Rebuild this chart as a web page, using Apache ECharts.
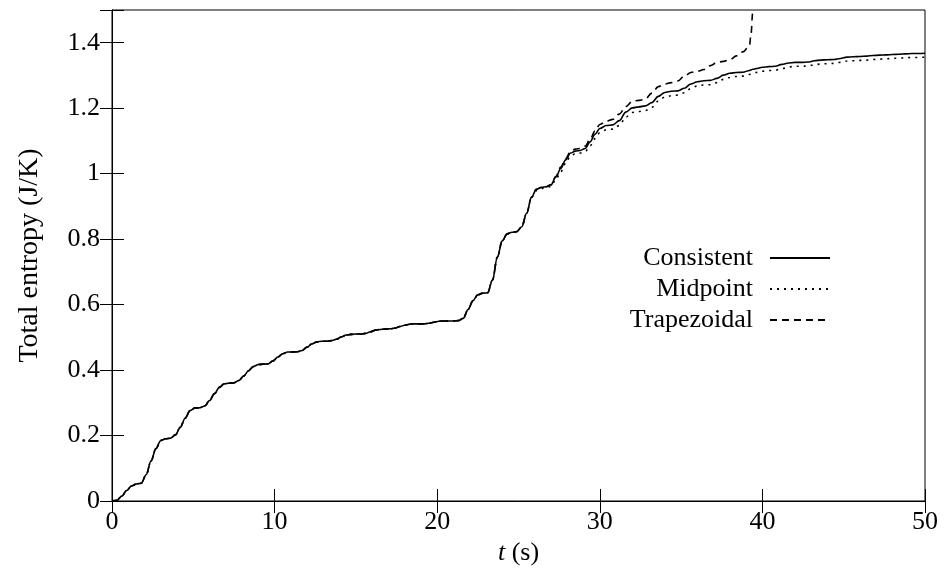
<!DOCTYPE html>
<html>
<head>
<meta charset="utf-8">
<script src="https://cdn.jsdelivr.net/npm/echarts@6/dist/echarts.min.js"></script>
<style>html,body{margin:0;padding:0;background:#fff}#c{width:948px;height:571px}</style>
</head>
<body>
<div id="c"></div>
<script>
const time = [
  0,0.3,0.6,0.9,1.2,1.5,1.8,2.1,2.4,2.7,
  3,3.3,3.6,3.9,4.2,4.5,4.8,5.1,5.4,5.7,
  6,6.3,6.6,6.9,7.2,7.5,7.8,8.1,8.4,8.7,
  9,9.3,9.6,9.9,10.2,10.5,10.8,11.1,11.4,11.7,
  12,12.3,12.6,12.9,13.2,13.5,13.8,14.1,14.4,14.7,
  15,15.3,15.6,15.9,16.2,16.5,16.8,17.1,17.4,17.7,
  18,18.3,18.6,18.9,19.2,19.5,19.8,20.1,20.4,20.7,
  21,21.3,21.6,21.9,22.2,22.5,22.8,23.1,23.4,23.7,
  24,24.3,24.6,24.9,25.2,25.5,25.8,26.1,26.4,26.7,
  27,27.3,27.6,27.9,28.2,28.5,28.8,29.1,29.4,29.7,
  30,
  30.4,30.8,31.2,31.6,32,32.4,32.8,33.2,33.6,34,
  34.4,34.8,35.2,35.6,36,36.4,36.8,37.2,37.6,38,
  38.4,38.8,39.2,
  39.3,39.4,39.45,39.6,
  40,40.4,40.8,41.2,41.6,42,42.4,42.8,43.2,43.6,
  44,44.4,44.8,45.2,45.6,46,46.4,46.8,47.2,47.6,
  48,48.4,48.8,49.2,49.6,50
];
const consistent = [
  0,0.002,0.015,0.032,0.046,0.052,0.054,0.08,0.122,0.16,
  0.185,0.19,0.192,0.202,0.225,0.253,0.276,0.284,0.285,0.29,
  0.307,0.328,0.347,0.358,0.36,0.361,0.368,0.382,0.398,0.411,
  0.417,0.418,0.419,0.428,0.44,0.45,0.455,0.455,0.456,0.46,
  0.47,0.48,0.486,0.488,0.488,0.49,0.494,0.501,0.507,0.509,
  0.51,0.51,0.512,0.517,0.522,0.524,0.525,0.526,0.528,0.533,
  0.537,0.54,0.541,0.541,0.541,0.543,0.546,0.549,0.55,0.55,
  0.55,0.551,0.558,0.585,0.612,0.63,0.635,0.636,0.675,0.745,
  0.795,0.816,0.821,0.823,0.838,0.879,0.928,0.952,0.958,0.96,
  0.966,0.99,1.016,1.042,1.063,1.069,1.071,1.077,1.097,1.12,
  1.138,
  1.147,1.149,1.162,1.188,1.201,1.204,1.207,1.217,1.236,1.248,
  1.252,1.253,1.261,1.274,1.281,1.284,1.285,1.291,1.301,1.307,
  1.309,1.31,1.315,
  1.317,1.319,1.319,1.321,
  1.325,1.327,1.328,1.334,1.338,1.34,1.34,1.341,1.345,1.347,
  1.348,1.349,1.352,1.356,1.357,1.358,1.359,1.361,1.362,1.363,
  1.364,1.365,1.366,1.367,1.367,1.368
];
const midpoint = [
  0,0.002,0.015,0.032,0.046,0.052,0.054,0.08,0.122,0.16,
  0.185,0.19,0.192,0.202,0.225,0.253,0.276,0.284,0.285,0.29,
  0.307,0.328,0.347,0.358,0.36,0.361,0.368,0.382,0.398,0.411,
  0.417,0.418,0.419,0.428,0.44,0.45,0.455,0.455,0.456,0.46,
  0.47,0.48,0.486,0.488,0.488,0.49,0.494,0.501,0.507,0.509,
  0.51,0.51,0.512,0.517,0.522,0.524,0.525,0.526,0.528,0.533,
  0.537,0.54,0.541,0.541,0.541,0.543,0.546,0.549,0.55,0.55,
  0.55,0.551,0.558,0.585,0.612,0.63,0.635,0.636,0.675,0.745,
  0.795,0.816,0.821,0.823,0.838,0.879,0.928,0.948,0.955,0.957,
  0.961,0.982,1.006,1.032,1.054,1.061,1.063,1.067,1.085,1.107,
  1.125,
  1.134,1.136,1.147,1.173,1.187,1.19,1.193,1.203,1.222,1.234,
  1.238,1.24,1.247,1.26,1.268,1.271,1.272,1.278,1.288,1.294,
  1.297,1.298,1.303,
  1.305,1.307,1.307,1.309,
  1.313,1.315,1.316,1.321,1.326,1.328,1.328,1.329,1.333,1.335,
  1.336,1.337,1.34,1.344,1.345,1.346,1.347,1.349,1.35,1.351,
  1.352,1.353,1.354,1.355,1.355,1.356
];
const trapezoidal = [
  0,0.002,0.015,0.032,0.046,0.052,0.054,0.08,0.122,0.16,
  0.185,0.19,0.192,0.202,0.225,0.253,0.276,0.284,0.285,0.29,
  0.307,0.328,0.347,0.358,0.36,0.361,0.368,0.382,0.398,0.411,
  0.417,0.418,0.419,0.428,0.44,0.45,0.455,0.455,0.456,0.46,
  0.47,0.48,0.486,0.488,0.488,0.49,0.494,0.501,0.507,0.509,
  0.51,0.51,0.512,0.517,0.522,0.524,0.525,0.526,0.528,0.533,
  0.537,0.54,0.541,0.541,0.541,0.543,0.546,0.549,0.55,0.55,
  0.55,0.551,0.558,0.585,0.612,0.63,0.635,0.636,0.675,0.745,
  0.795,0.816,0.821,0.823,0.838,0.879,0.928,0.952,0.958,0.96,
  0.966,0.992,1.02,1.046,1.068,1.075,1.077,1.084,1.105,1.13,
  1.15,
  1.16,1.166,1.182,1.205,1.221,1.224,1.228,1.246,1.266,1.274,
  1.278,1.283,1.298,1.309,1.313,1.318,1.33,1.34,1.343,1.348,
  1.36,1.372,1.39,
  1.425,1.49,1.7,null,
  null,null,null,null,null,null,null,null,null,null,
  null,null,null,null,null,null,null,null,null,null,
  null,null,null,null,null,null
];
const xTicks = [0, 10, 20, 30, 40, 50];
const yTicks = [0, 0.2, 0.4, 0.6, 0.8, 1, 1.2, 1.4];

const FONT = 'Liberation Serif';
const pair = (arr) => time.map((t, i) => [t, arr[i]]);
const chart = echarts.init(document.getElementById('c'), null, {renderer: 'canvas'});
const tickCommon = {show: true, inside: true, length: 12, lineStyle: {color: '#000', width: 1}};
chart.setOption({
  animation: false,
  backgroundColor: '#fff',
  grid: {left: 112, right: 23, top: 10, bottom: 70, show: true, borderColor: '#000', borderWidth: 1},
  legend: {
    orient: 'vertical', align: 'right', right: 112, top: 240,
    itemWidth: 60, itemHeight: 14, itemGap: 5,
    itemStyle: {opacity: 0},
    textStyle: {fontFamily: FONT, fontSize: 26, color: '#000', lineHeight: 23, padding: [0, 12, 0, 0]},
    data: ['Consistent', 'Midpoint', 'Trapezoidal']
  },
  xAxis: [{
    type: 'value', min: 0, max: 50, interval: 10,
    axisLine: {show: true, lineStyle: {color: '#000'}},
    axisTick: tickCommon,
    splitLine: {show: false},
    axisLabel: {fontFamily: FONT, fontSize: 26, color: '#000', margin: 8,
      formatter: v => xTicks.includes(v) ? String(v) : ''},
    name: '{i|t} (s)', nameLocation: 'middle', nameGap: 38,
    nameTextStyle: {fontFamily: FONT, fontSize: 26, color: '#000',
      rich: {i: {fontFamily: FONT, fontSize: 26, fontStyle: 'italic', color: '#000'}}}
  }, {
    type: 'value', position: 'top', min: 0, max: 50, interval: 10,
    axisLine: {show: true, lineStyle: {color: '#000'}},
    axisTick: tickCommon, axisLabel: {show: false}, splitLine: {show: false}
  }],
  yAxis: [{
    type: 'value', min: 0, max: 1.5, interval: 0.2,
    axisLine: {show: true, lineStyle: {color: '#000'}},
    axisTick: tickCommon,
    splitLine: {show: false},
    axisLabel: {fontFamily: FONT, fontSize: 26, color: '#000', margin: 12,
      formatter: v => { const r = Math.round(v * 10) / 10; return r > 1.45 ? '' : String(r); }},
    name: 'Total entropy (J/K)', nameLocation: 'middle', nameGap: 68, nameRotate: 90,
    nameTextStyle: {fontFamily: FONT, fontSize: 28, color: '#000'}
  }, {
    type: 'value', position: 'right', min: 0, max: 1.5, interval: 0.2,
    axisLine: {show: true, lineStyle: {color: '#000'}},
    axisTick: tickCommon, axisLabel: {show: false}, splitLine: {show: false}
  }],
  series: [{
    name: 'Consistent', type: 'line', data: pair(consistent), symbol: 'none',
    smooth: 0.35, smoothMonotone: 'x', clip: true,
    lineStyle: {color: '#000', width: 1.6, type: 'solid'}, itemStyle: {color: '#000'}
  }, {
    name: 'Midpoint', type: 'line', data: pair(midpoint), symbol: 'none',
    smooth: 0.35, smoothMonotone: 'x', clip: true,
    lineStyle: {color: '#000', width: 1.6, type: [2, 5]}, itemStyle: {color: '#000'}
  }, {
    name: 'Trapezoidal', type: 'line', data: pair(trapezoidal), symbol: 'none',
    smooth: 0.35, smoothMonotone: 'x', clip: true, connectNulls: false,
    lineStyle: {color: '#000', width: 1.6, type: [7, 5]}, itemStyle: {color: '#000'}
  }]
});
</script>
</body>
</html>
